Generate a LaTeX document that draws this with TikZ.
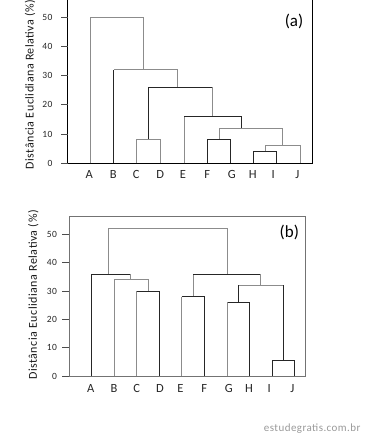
\documentclass[tikz,border=0pt]{standalone}
\usepackage{fontspec}
\setmainfont{Carlito}
\newfontfamily\spfont[LetterSpace=4]{Carlito}
\begin{document}
\begin{tikzpicture}[x=1pt, y=1pt,
    dk/.style={draw=black!85, line width=0.9pt},
    lt/.style={draw=black!45, line width=0.9pt},
    tlab/.style={font=\spfont\fontsize{9.5}{10}\selectfont, anchor=east, text=black!85},
    leaf/.style={font=\fontsize{12.5}{13}\selectfont, text=black!85},
    ylab/.style={font=\spfont\fontsize{12}{12}\selectfont, rotate=90, text=black!90}]
    \useasboundingbox (0,0) rectangle (365,435);

    % Dendrogram (a)
    \begin{scope}[yshift=271.7pt, y=2.92pt]
        % axes
        \draw[black, line width=0.9pt] (67.7,55.93) -- (67.7,0) -- (312.3,0) -- (312.3,55.93);
        \foreach \v in {0,10,...,50} {
            \draw[black!70, line width=0.8pt] (61,\v) -- (67.7,\v);
            \node[tlab] (ta\v) at (56,\v) {\v};
        }
        % links
        \draw[lt] (90.3,0) -- (90.3,50) -- (143,50) -- (143,32);
        \draw[dk] (113.7,0) -- (113.7,32);
        \draw[lt] (113.7,32) -- (177.7,32) -- (177.7,26);
        \draw[dk] (148.7,8) -- (148.7,26) -- (212.7,26);
        \draw[lt] (212.7,26) -- (212.7,16);
        \draw[lt] (136.3,0) -- (136.3,8) -- (160.7,8) -- (160.7,0);
        \draw[lt] (184.3,0) -- (184.3,16);
        \draw[dk] (184.3,16) -- (241.7,16) -- (241.7,12);
        \draw[lt] (219.3,8) -- (219.3,12) -- (282.7,12) -- (282.7,6);
        \draw[dk] (207.3,0) -- (207.3,8) -- (230,8) -- (230,0);
        \draw[lt] (265,4) -- (265,6) -- (300,6) -- (300,0);
        \draw[dk] (253.3,0) -- (253.3,4) -- (276.7,4) -- (276.7,0);
        % leaves
        \foreach \x/\l in {89.3/A, 113.3/B, 136.3/C, 160.3/D, 183/E, 207.3/F, 231.7/G, 252.7/H, 273.3/I, 297.3/J}
            \node[leaf] (a\l) at (\x,-3.77) {\l};
    \end{scope}
    \node[ylab] (ya) at (30,350.5) {Distância Euclidiana Relativa (\%)};
    \node[font=\fontsize{17}{17}\selectfont] (pa) at (294,414) {(a)};

    % Dendrogram (b)
    \begin{scope}[yshift=58.7pt, y=2.84pt]
        % frame
        \draw[black!55, line width=0.8pt] (69.3,0) rectangle (305.7,56.44);
        \foreach \v in {0,10,...,50} {
            \draw[black!70, line width=0.8pt] (62,\v) -- (69.3,\v);
            \node[tlab] (tb\v) at (60.5,\v) {\v};
        }
        % links
        \draw[lt] (108.7,36) -- (108.7,52) -- (227.7,52) -- (227.7,36);
        \draw[dk] (91.7,0) -- (91.7,36) -- (130.7,36);
        \draw[lt] (130.7,36) -- (130.7,34);
        \draw[lt] (114.3,0) -- (114.3,34) -- (148.3,34) -- (148.3,30);
        \draw[lt] (136.7,0) -- (136.7,30);
        \draw[dk] (136.7,30) -- (159.3,30) -- (159.3,0);
        \draw[lt] (193.3,28) -- (193.3,36);
        \draw[dk] (193.3,36) -- (260.7,36);
        \draw[lt] (260.7,36) -- (260.7,32);
        \draw[lt] (181.7,0) -- (181.7,28);
        \draw[dk] (181.7,28) -- (204.3,28) -- (204.3,0);
        \draw[lt] (238.5,32) -- (283.5,32);
        \draw[dk] (238.5,26) -- (238.5,32);
        \draw[dk] (283.5,32) -- (283.5,5.5);
        \draw[lt] (227.7,0) -- (227.7,26);
        \draw[dk] (227.7,26) -- (249.3,26) -- (249.3,0);
        \draw[dk] (272.5,0) -- (272.5,5.5) -- (294.7,5.5) -- (294.7,0);
        % leaves
        \foreach \x/\l in {90.7/A, 114/B, 136.7/C, 160/D, 180.3/E, 204.3/F, 228.7/G, 249/H, 269.3/I, 292.3/J}
            \node[leaf] (b\l) at (\x,-4.23) {\l};
    \end{scope}
    \node[ylab] (yb) at (33.3,140) {Distância Euclidiana Relativa (\%)};
    \node[font=\fontsize{17}{17}\selectfont] (pb) at (289.3,202.3) {(b)};

    \node[anchor=east, text=black!40, font=\spfont\fontsize{11}{12}\selectfont] (wm) at (364,6.7) {estudegratis.com.br};
\end{tikzpicture}
\end{document}
